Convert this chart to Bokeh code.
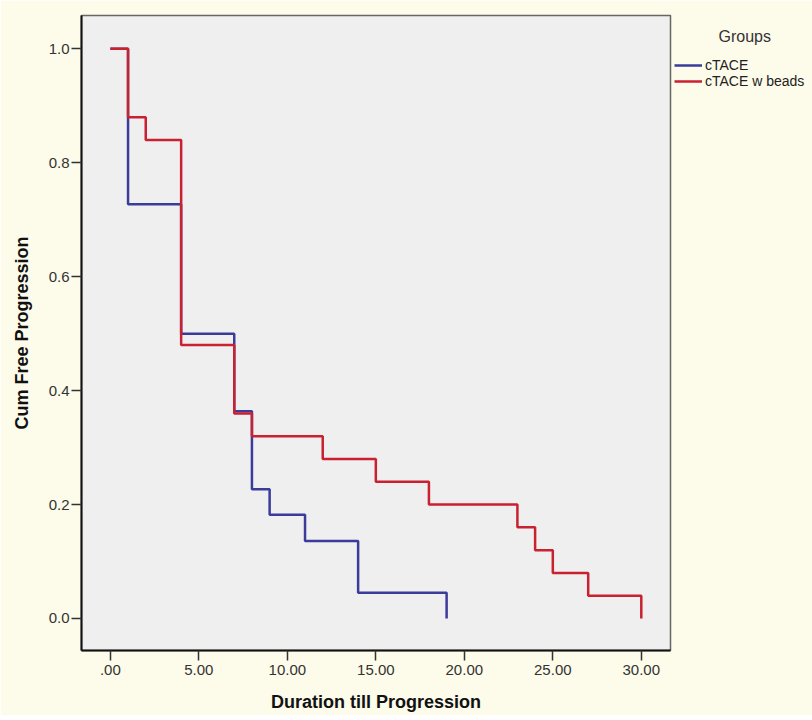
from bokeh.plotting import figure
from bokeh.models import Range1d, FixedTicker, Legend, LegendItem
from bokeh.embed import file_html
from bokeh.resources import INLINE

# Data (Kaplan-Meier steps)
ctace_time = [0, 1, 4, 7, 8, 9, 11, 14, 19]
ctace_surv = [1.0, 0.727, 0.5, 0.364, 0.227, 0.182, 0.136, 0.045, 0.0]
beads_time = [0, 1, 2, 4, 7, 8, 12, 15, 18, 23, 24, 25, 27, 30]
beads_surv = [1.0, 0.88, 0.84, 0.48, 0.36, 0.32, 0.28, 0.24, 0.20, 0.16, 0.12, 0.08, 0.04, 0.0]
group_names = ["cTACE", "cTACE w beads"]
legend_title = "Groups"
x_ticks = [0, 5, 10, 15, 20, 25, 30]
x_tick_labels = [".00", "5.00", "10.00", "15.00", "20.00", "25.00", "30.00"]
y_ticks = [0.0, 0.2, 0.4, 0.6, 0.8, 1.0]
y_tick_labels = ["0.0", "0.2", "0.4", "0.6", "0.8", "1.0"]

CREAM = "#fdfbea"
FONT = "Liberation Sans"

p = figure(frame_width=589, frame_height=635,
           min_border_left=81, min_border_top=15, min_border_right=142, min_border_bottom=65,
           x_range=Range1d(-1.63, 31.65), y_range=Range1d(-0.0562, 1.0585),
           output_backend="svg", toolbar_location=None)
p.background_fill_color = "#efefef"
p.border_fill_color = CREAM
p.outline_line_color = "#666666"
p.outline_line_width = 1.5
p.grid.visible = False

r_blue = p.step(ctace_time, ctace_surv, mode="after", line_color="#3b3b9c", line_width=2.5)
r_red = p.step(beads_time, beads_surv, mode="after", line_color="#c92130", line_width=2.5)

for ax in (p.xaxis[0], p.yaxis[0]):
    ax.axis_line_color = "#111111"
    ax.axis_line_width = 2
    ax.major_tick_line_color = "#333333"
    ax.major_tick_line_width = 1.5
    ax.major_tick_in = 0
    ax.major_tick_out = 10
    ax.minor_tick_line_color = None
    ax.major_label_text_font = FONT
    ax.major_label_text_font_size = "15px"
    ax.major_label_text_color = "#333333"
    ax.axis_label_text_font = FONT
    ax.axis_label_text_font_style = "bold"
    ax.axis_label_text_font_size = "18px"
    ax.axis_label_text_color = "#111111"

p.xaxis.ticker = FixedTicker(ticks=x_ticks)
p.xaxis.major_label_overrides = {t: s for t, s in zip(x_ticks, x_tick_labels)}
p.yaxis.ticker = FixedTicker(ticks=y_ticks)
p.yaxis.major_label_overrides = {t: s for t, s in zip(y_ticks, y_tick_labels)}
p.xaxis.axis_label = "Duration till Progression"
p.yaxis.axis_label = "Cum Free Progression"
p.xaxis.major_label_standoff = 4
p.yaxis.major_label_standoff = 2
p.xaxis.axis_label_standoff = 14
p.yaxis.axis_label_standoff = 14

# title is indented with non-breaking spaces so it sits centred over the entries
legend = Legend(items=[LegendItem(label=group_names[0], renderers=[r_blue]),
                       LegendItem(label=group_names[1], renderers=[r_red])],
                title="\u00a0" * 10 + legend_title,
                title_text_font=FONT, title_text_font_size="16px",
                title_text_font_style="normal", title_text_color="#333333",
                title_standoff=11,
                location=(4, 561), orientation="vertical",
                background_fill_alpha=0, border_line_color=None,
                padding=0, margin=0, spacing=0, glyph_width=28, glyph_height=16,
                label_standoff=3, label_text_font=FONT, label_text_font_size="14px",
                label_text_color="#222222", label_height=16)
p.add_layout(legend, "right")

html = file_html(p, INLINE)
html = html.replace("<body>", '<body style="background-color:%s;">' % CREAM, 1)
open("out.html", "w").write(html)
